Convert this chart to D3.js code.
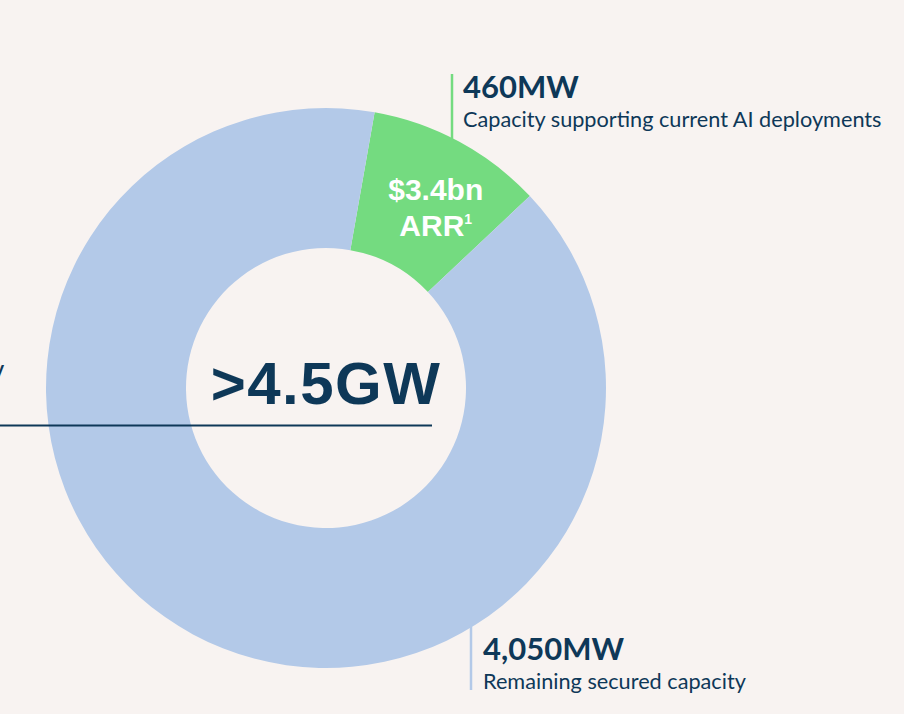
<!DOCTYPE html>
<html>
<head>
<meta charset="utf-8">
<script src="https://cdn.jsdelivr.net/npm/d3@7"></script>
<style>
  html, body { margin: 0; padding: 0; background: #f8f3f1; }
  svg { display: block; }
</style>
</head>
<body>
<div id="chart"></div>
<script>
//segments of secured capacity, MW
const segments = ['AI deployments', 'Remaining secured']
const capacityMW = [460, 4050]
const segColors = ['#74db80', '#b3c9e8']
const headlines = ['460MW', '4,050MW']
const sublabels = ['Capacity supporting current AI deployments', 'Remaining secured capacity']
const totalLabel = '>4.5GW'
const arrLabel = ['$3.4bn', 'ARR']

const W = 904, H = 714
const navy = '#0e3858'
const cx = 326, cy = 388, rOuter = 280, rInner = 140

const svg = d3.select('#chart').append('svg')
  .attr('width', W).attr('height', H)

svg.append('rect').attr('width', W).attr('height', H).attr('fill', '#f8f3f1')

const data = segments.map((s, i) => ({ key: s, value: capacityMW[i] }))

//green slice starts just past 12 o'clock
const start = 10 * Math.PI / 180
const pie = d3.pie().value(d => d.value).sort(null)
  .startAngle(start).endAngle(start + 2 * Math.PI)
const arcs = pie(data)

const arc = d3.arc().innerRadius(rInner).outerRadius(rOuter)

const g = svg.append('g').attr('transform', 'translate(' + cx + ',' + cy + ')')

g.selectAll('path.slice')
  .data(arcs)
  .enter().append('path')
    .attr('class', 'slice')
    .attr('d', arc)
    .attr('fill', (d, i) => segColors[i])

//label inside the green slice
const c = arc.centroid(arcs[0])
const lx = c[0] + 10
const arrText = g.append('text')
  .attr('x', lx).attr('y', c[1] - 3)
  .attr('text-anchor', 'middle')
  .attr('fill', '#ffffff')
  .style('font-family', '"Liberation Sans", Arial, sans-serif')
  .style('font-weight', 'bold')
  .style('font-size', '30px')
arrText.append('tspan').text(arrLabel[0])
const t2 = arrText.append('tspan').attr('x', lx).attr('dy', 36).text(arrLabel[1])
t2.append('tspan').attr('dy', -12).style('font-size', '14px').text('1')

//callouts: leader line from slice edge, then headline + sublabel
const callouts = [
  { x: 452, y1: 74, y2: 142, tx: 463, ty: 98 },
  { x: 471, y1: 624, y2: 690, tx: 483, ty: 660 }
]

callouts.forEach((co, i) => {
  svg.append('line')
    .attr('x1', co.x).attr('x2', co.x)
    .attr('y1', co.y1).attr('y2', co.y2)
    .attr('stroke', segColors[i])
    .attr('stroke-width', 2.5)

  svg.append('text')
    .attr('x', co.tx).attr('y', co.ty)
    .attr('fill', navy)
    .style('font-family', 'Lato, "Noto Sans", sans-serif')
    .style('font-weight', 'bold')
    .style('font-size', '31px')
    .text(headlines[i])

  svg.append('text')
    .attr('x', co.tx).attr('y', co.ty + 29)
    .attr('fill', navy)
    .style('font-family', 'Lato, "Noto Sans", sans-serif')
    .style('font-size', '21.7px')
    .text(sublabels[i])
})

//total in the hole
svg.append('text')
  .attr('x', cx).attr('y', 404)
  .attr('text-anchor', 'middle')
  .attr('fill', navy)
  .style('font-family', '"Liberation Sans", Arial, sans-serif')
  .style('font-weight', 'bold')
  .style('font-size', '60px')
  .style('letter-spacing', '1.5px')
  .text(totalLabel)

//rule under the total, running off the left edge
svg.append('line')
  .attr('x1', 0).attr('x2', 432)
  .attr('y1', 425.5).attr('y2', 425.5)
  .attr('stroke', navy)
  .attr('stroke-width', 2)

//cut-off glyph at the left edge (text continues off the picture)
svg.append('text')
  .attr('x', 4).attr('y', 376)
  .attr('text-anchor', 'end')
  .attr('fill', navy)
  .style('font-family', 'Lato, sans-serif')
  .style('font-weight', 'bold')
  .style('font-size', '20px')
  .text('y')
</script>
</body>
</html>
